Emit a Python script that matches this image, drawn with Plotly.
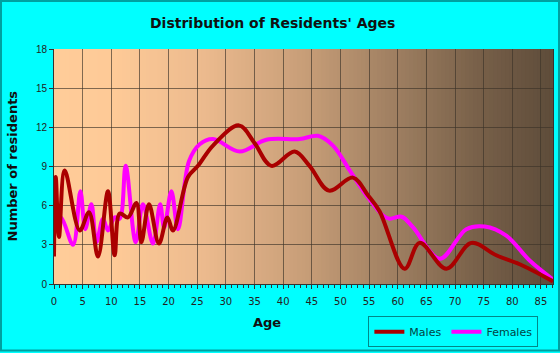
import plotly.graph_objects as go

# ---- data ----
male_age = [0, 0.3, 0.87, 1.87, 4.49, 6.11, 7.68, 9.42, 10.59, 11.47, 12.91, 14.38, 15.25,
            16.58, 18.32, 19.79, 20.77, 23.39, 25.13, 27.75, 32.29, 35.0, 37.94, 42.0, 44.6,
            47.99, 52.18, 54.8, 56.8, 61.2, 63.82, 68.48, 72.84, 77.2, 81.85, 87.1]
male_val = [2.1, 8.2, 3.6, 8.7, 4.1, 5.5, 2.1, 7.1, 2.2, 5.4, 5.1, 6.2, 3.2,
            6.1, 3.1, 5.1, 4.1, 8.2, 9.05, 10.6, 12.15, 10.8, 9.05, 10.15, 9.05,
            7.15, 8.15, 6.8, 5.6, 1.17, 3.15, 1.17, 3.15, 2.2, 1.4, 0.2]

female_age = [0, 1.2, 3.32, 4.61, 5.45, 6.53, 7.4, 8.55, 9.42, 10.59, 11.47, 12.51, 14.26,
              15.53, 17.28, 18.53, 19.23, 20.49, 21.64, 23.56, 25.43, 27.75, 32.41, 37.07,
              42.88, 46.07, 48.7, 51.61, 54.52, 57.42, 58.59, 60.68, 62.65, 67.33, 71.97,
              75.17, 78.95, 83.02, 87.1]
female_val = [5.1, 5.1, 3.0, 7.1, 4.2, 6.1, 3.2, 5.0, 4.1, 5.1, 5.0, 9.05, 3.2,
              6.1, 3.1, 6.1, 4.3, 7.1, 4.2, 9.4, 10.7, 11.1, 10.15, 11.05,
              11.1, 11.35, 10.6, 8.7, 6.8, 5.25, 5.0, 5.15, 4.35, 1.93, 4.2,
              4.4, 3.7, 1.8, 0.35]

x_tick_vals = list(range(0, 90, 5))
y_tick_vals = list(range(0, 19, 3))

# ---- styling ----
fig = go.Figure()
fig.add_trace(go.Scatter(x=female_age, y=female_val, mode="lines", name="Females",
                         line=dict(color="#ff00ff", width=4, shape="spline", smoothing=1.0)))
fig.add_trace(go.Scatter(x=male_age, y=male_val, mode="lines", name="Males",
                         line=dict(color="#aa0000", width=4, shape="spline", smoothing=1.0)))

# background gradient for the plot area
stops = [(0.0, (255, 204, 153)), (0.12, (254, 202, 151)), (0.3, (236, 186, 142)),
         (0.5, (200, 158, 120)), (0.7, (155, 124, 95)), (0.85, (120, 96, 73)),
         (1.0, (94, 76, 58))]

def col(f):
    for (f0, c0), (f1, c1) in zip(stops[:-1], stops[1:]):
        if f0 <= f <= f1:
            t = (f - f0) / (f1 - f0) if f1 > f0 else 0
            return "rgb(%d,%d,%d)" % tuple(round(a + (b - a) * t) for a, b in zip(c0, c1))
    return "rgb(%d,%d,%d)" % stops[-1][1]

N = 125
shapes = []
for i in range(N):
    f0, f1 = i / N, (i + 1) / N
    shapes.append(dict(type="rect", xref="x domain", yref="y domain", x0=f0, x1=f1 + 0.002,
                       y0=0, y1=1, fillcolor=col((f0 + f1) / 2), line=dict(width=0),
                       layer="below"))
# outer border of the image
shapes.append(dict(type="rect", xref="paper", yref="paper",
                   x0=(1 - 54) / 499, x1=(559 - 54) / 499,
                   y0=(285.3 - 352) / 236, y1=(285.3 - 1) / 236,
                   line=dict(width=2, color="#00a0a0")))

fig.update_layout(
    width=560, height=353,
    margin=dict(l=54, r=7, t=49, b=68),
    paper_bgcolor="#00ffff",
    plot_bgcolor="#ffcc99",
    shapes=shapes,
    showlegend=True,
    legend=dict(orientation="h", x=0.63, y=-0.132, xanchor="left", yanchor="top",
                traceorder="reversed",
                bgcolor="#00ffff", bordercolor="#008888", borderwidth=1,
                font=dict(family="DejaVu Sans", size=11, color="#004444"),
                itemwidth=30, tracegroupgap=0),
    title=dict(text="Distribution of Residents' Ages", x=0.487, xanchor="center",
               y=0.935, yanchor="middle",
               font=dict(family="DejaVu Sans", size=14, color="#111111", weight="bold")),
    xaxis=dict(range=[0, 87.1], tickvals=x_tick_vals, showgrid=True,
               gridcolor="rgba(60,50,40,0.65)", gridwidth=1, zeroline=False,
               showline=True, linecolor="#333333", linewidth=1,
               ticks="outside", ticklen=4, tickcolor="#333333",
               minor=dict(dtick=1, ticks="outside", ticklen=3, tickcolor="#333333", showgrid=False),
               tickfont=dict(family="DejaVu Sans", size=10, color="#222222"),
               ticklabelstandoff=4),
    yaxis=dict(range=[0, 18], tickvals=y_tick_vals, showgrid=True,
               gridcolor="rgba(60,50,40,0.65)", gridwidth=1, zeroline=False,
               showline=True, mirror=True, linecolor="#333333", linewidth=1,
               ticks="outside", ticklen=4, tickcolor="#333333",
               tickfont=dict(family="Liberation Sans", size=10, color="#222222")),
    annotations=[
        dict(text="Age", xref="paper", yref="paper", x=(267 - 54) / 499, y=(285.3 - 324) / 236,
             showarrow=False, xanchor="center", yanchor="middle",
             font=dict(family="DejaVu Sans", size=13, color="#111111", weight="bold")),
        dict(text="Number of residents", xref="paper", yref="paper", x=(12 - 54) / 499, y=0.5,
             textangle=-90, showarrow=False, xanchor="center", yanchor="middle",
             font=dict(family="DejaVu Sans", size=13, color="#111111", weight="bold")),
    ],
)

fig.write_html("out.html")
